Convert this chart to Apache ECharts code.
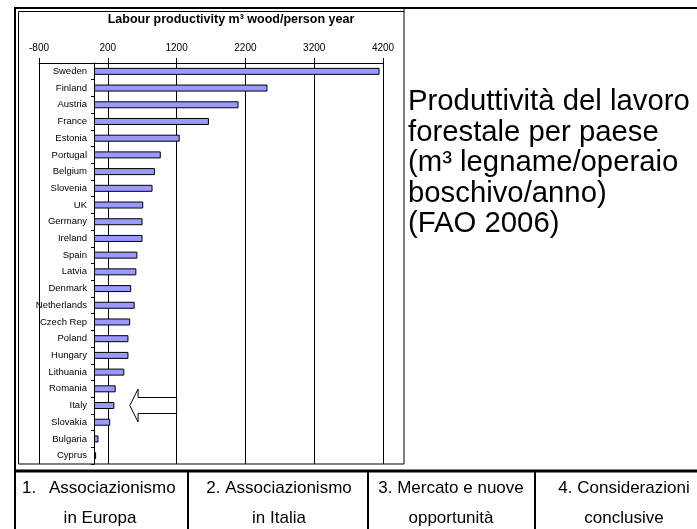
<!DOCTYPE html>
<html>
<head>
<meta charset="utf-8">
<script src="https://cdn.jsdelivr.net/npm/echarts@6/dist/echarts.min.js"></script>
<style>
  html, body { margin: 0; padding: 0; background: #fff; }
  #chart { width: 697px; height: 529px; }
</style>
</head>
<body>
<div id="chart"></div>
<script>
// countries, top to bottom
const countries = ['Sweden', 'Finland', 'Austria', 'France', 'Estonia', 'Portugal', 'Belgium',
  'Slovenia', 'UK', 'Germany', 'Ireland', 'Spain', 'Latvia', 'Denmark', 'Netherlands',
  'Czech Rep', 'Poland', 'Hungary', 'Lithuania', 'Romania', 'Italy', 'Slovakia', 'Bulgaria', 'Cyprus'];
// m3 wood / person / year
const productivity = [4150, 2520, 2100, 1670, 1245, 970, 885, 850, 715, 705, 705, 630, 615,
  540, 590, 525, 500, 500, 440, 315, 295, 235, 65, 30];

const axisMin = -800;
const axisMax = 4200;
const axisStep = 1000;

// arrow pointing at Italy: tail at 1200, tip at ~520, head starts ~640
const arrowCountry = 'Italy';
const arrowTail = 1200;
const arrowNeck = 640;
const arrowTip = 520;

const chartTitle = 'Labour productivity m³ wood/person year';
const sideText = 'Produttività del lavoro\nforestale per paese\n(m³ legname/operaio\nboschivo/anno)\n(FAO 2006)';
const tabRow1 = ['Associazionismo', '2. Associazionismo', '3. Mercato e nuove', '4. Considerazioni'];
const tabRow2 = ['in Europa', 'in Italia', 'opportunità', 'conclusive'];

const font = '"Liberation Sans", Arial, sans-serif';
const chart = echarts.init(document.getElementById('chart'), null, { renderer: 'canvas' });

// table cells text
const tabCenters = [49, 279, 451, 624];
const tabGraphics = [];
tabRow1.forEach((t, i) => {
  tabGraphics.push({
    type: 'text', x: tabCenters[i], y: 488,
    style: { text: t, font: '17px ' + font, fill: '#000', align: i === 0 ? 'left' : 'center', verticalAlign: 'middle' }
  });
  tabGraphics.push({
    type: 'text', x: i === 0 ? 100 : tabCenters[i], y: 518,
    style: { text: tabRow2[i], font: '17px ' + font, fill: '#000', align: 'center', verticalAlign: 'middle' }
  });
});

chart.setOption({
  animation: false,
  grid: { left: 39, right: 314, top: 63, bottom: 65, containLabel: false, outerBoundsMode: 'none' },
  xAxis: {
    type: 'value',
    position: 'top',
    min: axisMin,
    max: axisMax,
    interval: axisStep,
    axisLine: { show: true, lineStyle: { color: '#000', width: 1 } },
    axisTick: { show: true, length: 5, lineStyle: { color: '#000' } },
    axisLabel: { fontFamily: font, fontSize: 10, color: '#000', margin: 10, formatter: v => String(v) },
    splitLine: { show: true, lineStyle: { color: '#000', width: 1 } }
  },
  yAxis: {
    type: 'category',
    data: countries,
    inverse: true,
    axisLine: { show: true, onZero: true, lineStyle: { color: '#000', width: 1 } },
    axisTick: { show: true, length: 3, lineStyle: { color: '#000' } },
    axisLabel: { fontFamily: font, fontSize: 9.5, color: '#000', margin: -48 },
    splitLine: { show: false }
  },
  series: [
    {
      type: 'bar',
      data: productivity,
      barWidth: 7,
      itemStyle: { color: '#9999ff', borderColor: '#000', borderWidth: 1 },
      z: 2
    },
    {
      type: 'custom',
      data: [[arrowTail, countries.indexOf(arrowCountry), arrowNeck, arrowTip]],
      encode: { x: 0, y: 1 },
      z: 5,
      renderItem: function (params, api) {
        const band = api.size([0, 1])[1];
        const yc = api.coord([0, api.value(1)])[1];
        const xTail = api.coord([api.value(0), api.value(1)])[0];
        const xNeck = api.coord([api.value(2), api.value(1)])[0];
        const xTip = api.coord([api.value(3), api.value(1)])[0];
        const head = band * 0.99;
        const shaft = band * 0.48;
        return {
          type: 'polygon',
          shape: {
            points: [
              [xTip, yc], [xNeck, yc - head], [xNeck, yc - shaft], [xTail, yc - shaft],
              [xTail, yc + shaft], [xNeck, yc + shaft], [xNeck, yc + head]
            ]
          },
          style: { fill: '#fff', stroke: '#000', lineWidth: 1 }
        };
      }
    }
  ],
  graphic: [
    // outer slide frame
    { type: 'line', shape: { x1: 14, y1: 8, x2: 697, y2: 8 }, style: { stroke: '#000', lineWidth: 2 } },
    { type: 'line', shape: { x1: 15, y1: 7, x2: 15, y2: 529 }, style: { stroke: '#000', lineWidth: 2 } },
    // chart box
    { type: 'rect', shape: { x: 18.5, y: 11.5, width: 385.5, height: 452.5 }, style: { fill: null, stroke: '#000', lineWidth: 1 } },
    { type: 'line', shape: { x1: 404, y1: 8, x2: 404, y2: 12 }, style: { stroke: '#000', lineWidth: 1 } },
    {
      type: 'text', x: 231, y: 20,
      style: { text: chartTitle, font: 'bold 12.5px ' + font, fill: '#000', align: 'center', verticalAlign: 'middle' }
    },
    {
      type: 'text', x: 408, y: 87,
      style: { text: sideText, font: '29.3px ' + font, fill: '#000', lineHeight: 30.5, align: 'left', verticalAlign: 'top' }
    },
    // bottom table
    { type: 'line', shape: { x1: 14, y1: 471, x2: 697, y2: 471 }, style: { stroke: '#000', lineWidth: 3 } },
    { type: 'line', shape: { x1: 188, y1: 471, x2: 188, y2: 529 }, style: { stroke: '#000', lineWidth: 2 } },
    { type: 'line', shape: { x1: 368, y1: 471, x2: 368, y2: 529 }, style: { stroke: '#000', lineWidth: 2 } },
    { type: 'line', shape: { x1: 535, y1: 471, x2: 535, y2: 529 }, style: { stroke: '#000', lineWidth: 2 } },
    {
      type: 'text', x: 22, y: 488,
      style: { text: '1.', font: '17px ' + font, fill: '#000', align: 'left', verticalAlign: 'middle' }
    }
  ].concat(tabGraphics)
});
</script>
</body>
</html>
